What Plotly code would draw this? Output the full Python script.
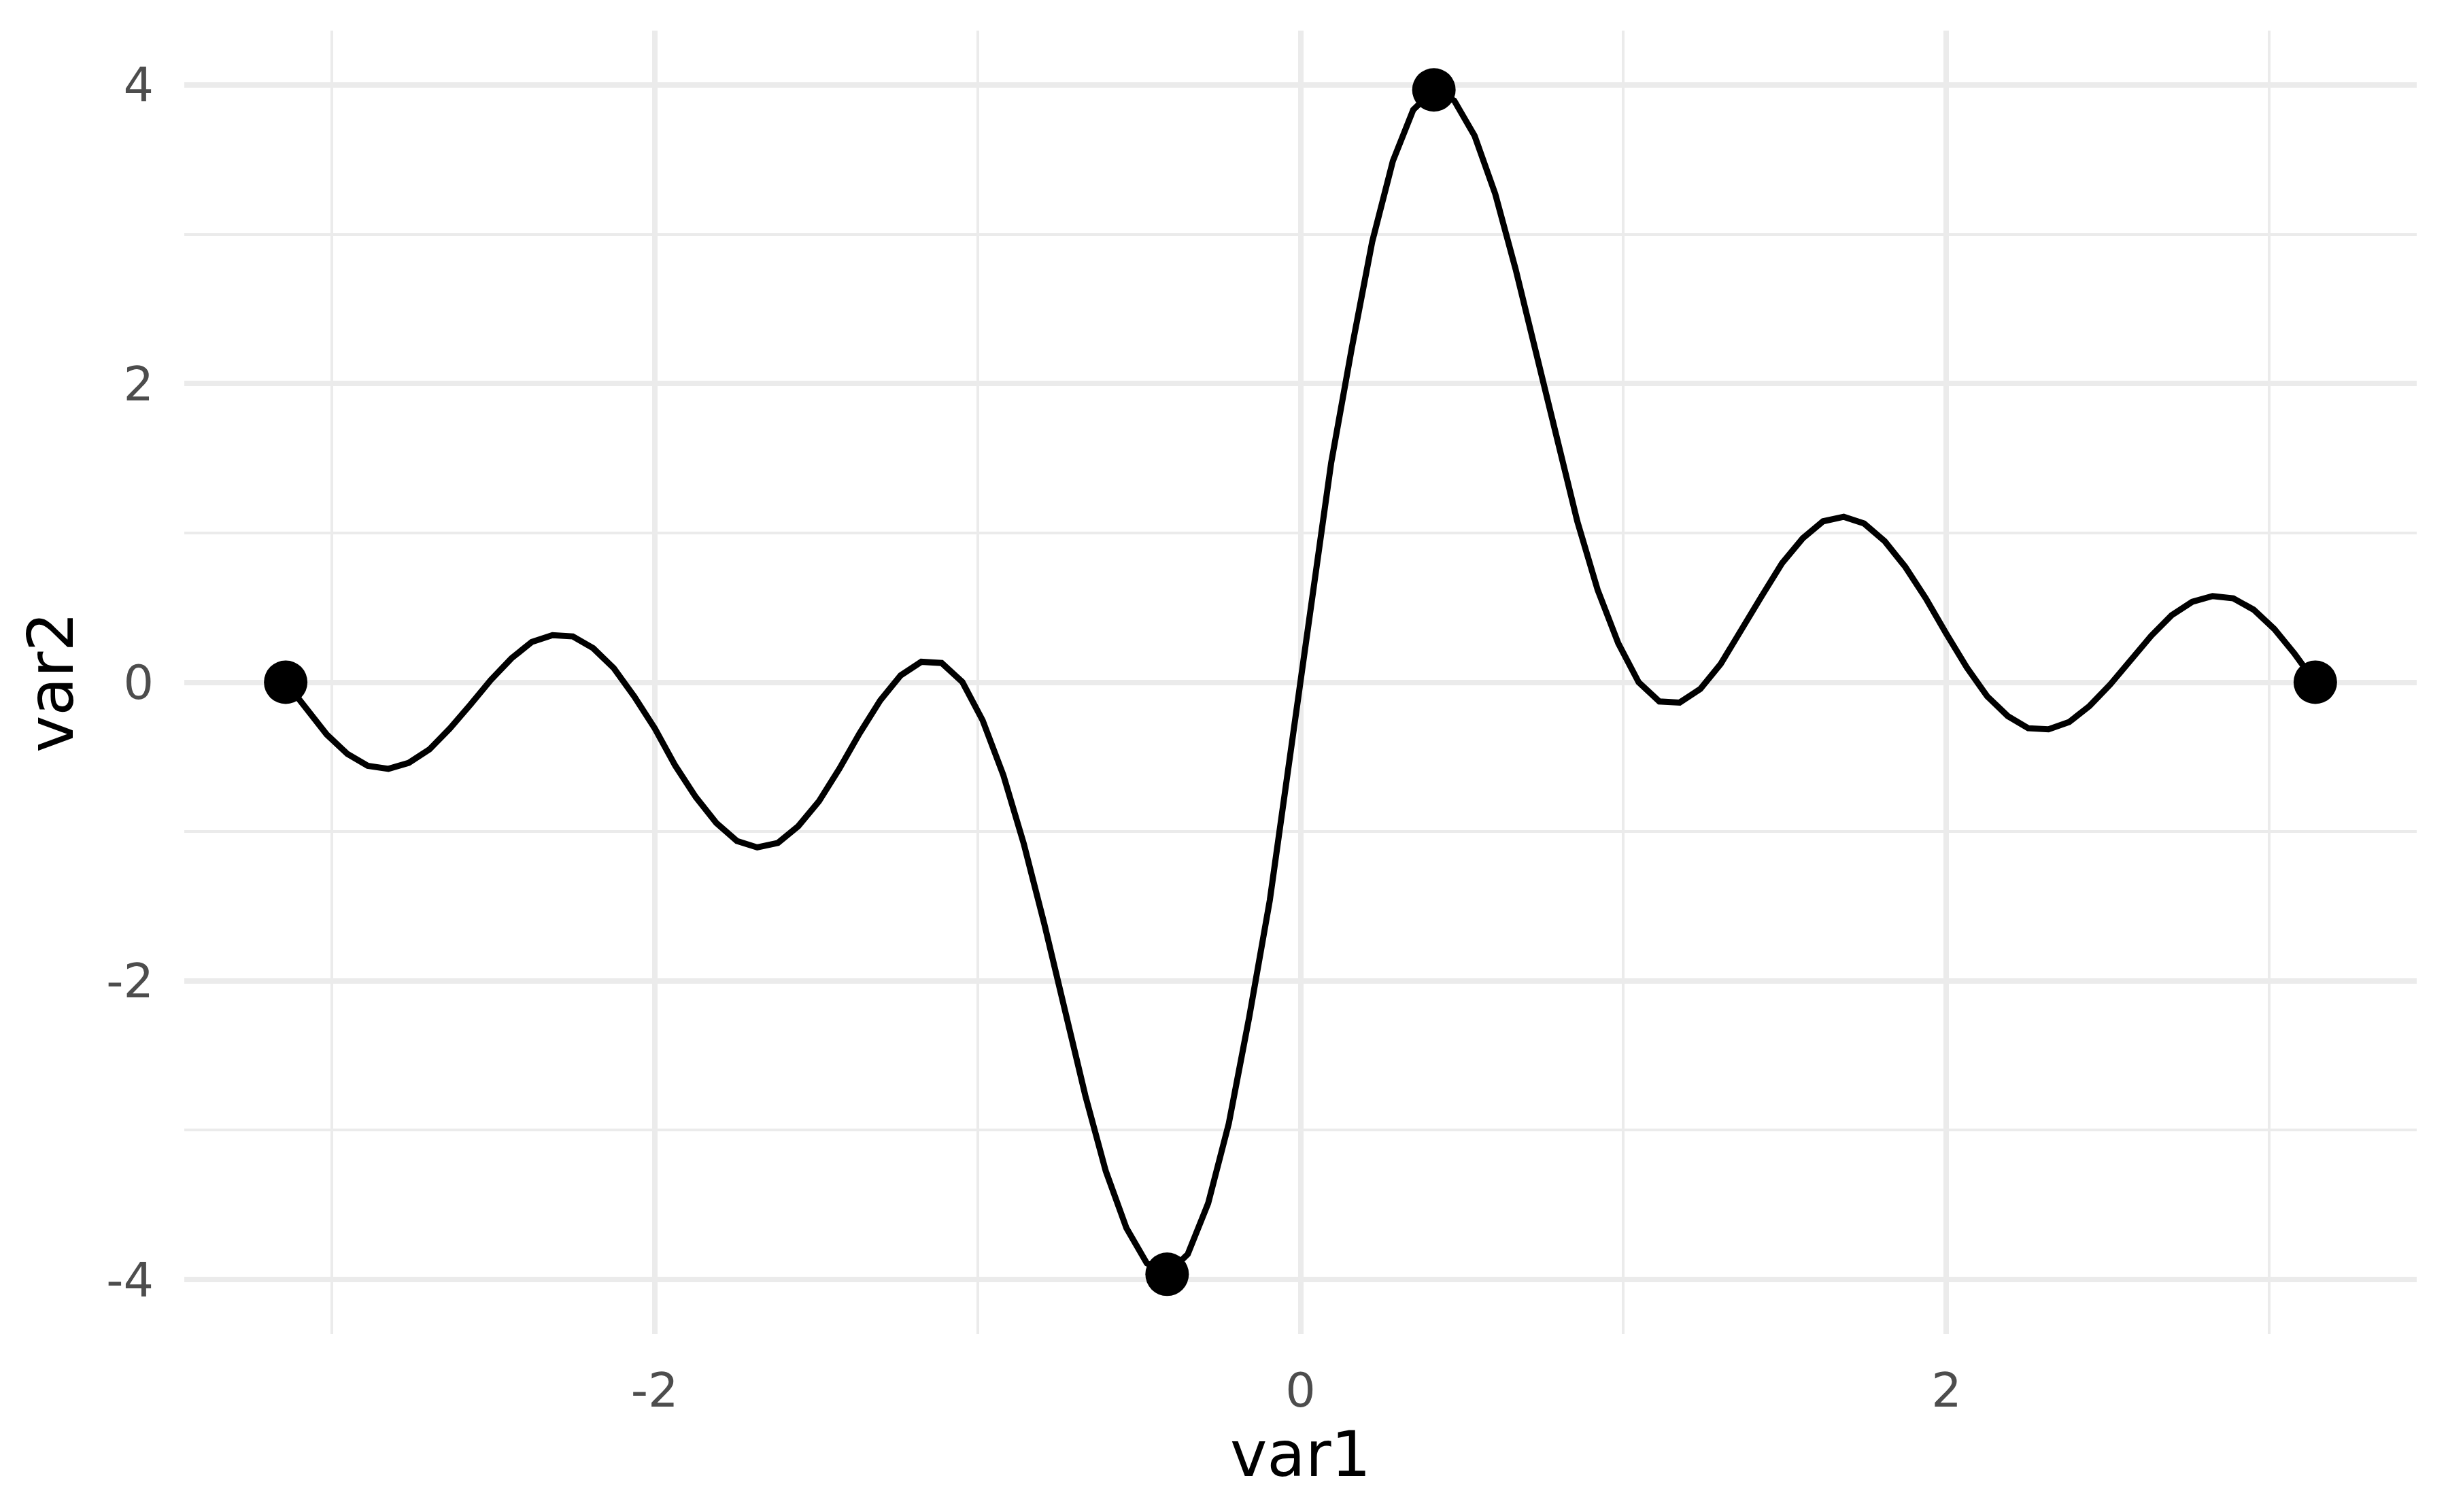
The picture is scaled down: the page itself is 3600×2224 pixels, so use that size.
import plotly.graph_objects as go

# curve samples (100 points)
var1 = [-3.142, -3.078, -3.015, -2.951, -2.888, -2.824, -2.761, -2.697, -2.634, -2.570,
        -2.507, -2.443, -2.380, -2.316, -2.253, -2.190, -2.126, -2.063, -1.999, -1.936,
        -1.872, -1.809, -1.745, -1.682, -1.618, -1.555, -1.491, -1.428, -1.365, -1.301,
        -1.238, -1.174, -1.111, -1.047, -0.984, -0.920, -0.857, -0.793, -0.730, -0.666,
        -0.603, -0.539, -0.476, -0.413, -0.349, -0.286, -0.222, -0.159, -0.095, -0.032,
        0.032, 0.095, 0.159, 0.222, 0.286, 0.349, 0.413, 0.476, 0.539, 0.603,
        0.666, 0.730, 0.793, 0.857, 0.920, 0.984, 1.047, 1.111, 1.174, 1.238,
        1.301, 1.365, 1.428, 1.491, 1.555, 1.618, 1.682, 1.745, 1.809, 1.872,
        1.936, 1.999, 2.063, 2.126, 2.190, 2.253, 2.316, 2.380, 2.443, 2.507,
        2.570, 2.634, 2.697, 2.761, 2.824, 2.888, 2.951, 3.015, 3.078, 3.142]

var2 = [0.0, -0.17, -0.35, -0.48, -0.56, -0.58, -0.54, -0.45, -0.31, -0.15,
        0.015, 0.16, 0.27, 0.315, 0.307, 0.228, 0.094, -0.095, -0.31, -0.558,
        -0.77, -0.942, -1.063, -1.106, -1.076, -0.964, -0.797, -0.58, -0.342, -0.121,
        0.046, 0.137, 0.129, 0.002, -0.256, -0.622, -1.08, -1.62, -2.195, -2.77,
        -3.273, -3.655, -3.89, -3.965, -3.83, -3.49, -2.955, -2.245, -1.46, -0.485,
        0.49, 1.47, 2.24, 2.95, 3.49, 3.833, 3.967, 3.895, 3.66, 3.27,
        2.767, 2.204, 1.64, 1.078, 0.619, 0.26, 0.0, -0.129, -0.136, -0.045,
        0.122, 0.342, 0.577, 0.797, 0.964, 1.078, 1.108, 1.063, 0.944, 0.774,
        0.562, 0.327, 0.099, -0.094, -0.227, -0.308, -0.315, -0.266, -0.159, -0.015,
        0.149, 0.311, 0.448, 0.539, 0.577, 0.562, 0.486, 0.357, 0.19, 0.0]

# highlighted points: the two ends, the minimum and the maximum
pt_x = [-3.142, -0.413, 0.413, 3.142]
pt_y = [0.0, -3.965, 3.967, 0.0]

x_ticks = [-2, 0, 2]
y_ticks = [-4, -2, 0, 2, 4]

fig = go.Figure()
fig.add_trace(go.Scatter(x=var1, y=var2, mode="lines",
                         line=dict(color="black", width=9)))
fig.add_trace(go.Scatter(x=pt_x, y=pt_y, mode="markers",
                         marker=dict(color="black", size=64)))

grid = "#EBEBEB"
# the page body has an 8px margin, so margins are shifted by that amount
fig.update_layout(
    width=3600, height=2224,
    paper_bgcolor="white", plot_bgcolor="white",
    showlegend=False,
    margin=dict(l=263, r=54, t=37, b=270),
    font=dict(family="DejaVu Sans", color="#4D4D4D", size=70),
    xaxis=dict(
        range=[-3.456, 3.456], tickvals=x_ticks, ticktext=[str(v) for v in x_ticks],
        showgrid=True, gridcolor=grid, gridwidth=8, zeroline=False, showline=False,
        ticks="outside", ticklen=22, tickcolor="rgba(0,0,0,0)", automargin=False,
        minor=dict(tickvals=[-3, -1, 1, 3], showgrid=True, gridcolor=grid, gridwidth=4),
        title=dict(text="var1", font=dict(size=92, color="black"), standoff=2),
    ),
    yaxis=dict(
        range=[-4.364, 4.364], tickvals=y_ticks, ticktext=[str(v) for v in y_ticks],
        showgrid=True, gridcolor=grid, gridwidth=8, zeroline=False, showline=False,
        ticks="outside", ticklen=30, tickcolor="rgba(0,0,0,0)", automargin=False,
        minor=dict(tickvals=[-3, -1, 1, 3], showgrid=True, gridcolor=grid, gridwidth=4),
        title=dict(text="var2", font=dict(size=92, color="black"), standoff=18),
    ),
)

fig.write_html("out.html")
